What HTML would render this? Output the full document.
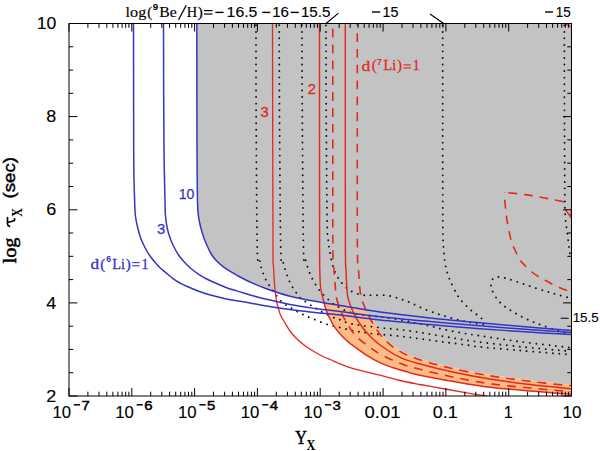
<!DOCTYPE html>
<html><head><meta charset="utf-8"><title>plot</title>
<style>html,body{margin:0;padding:0;background:#fff}svg{display:block}text{white-space:pre}</style>
</head><body>
<svg width="600" height="451" viewBox="0 0 600 451">
<rect width="600" height="451" fill="#fff"/>
<clipPath id="c"><rect x="69.0" y="23.5" width="502.5" height="372.5"/></clipPath>
<g clip-path="url(#c)">
<path d="M196.8 23.5 C196.8 36.2 196.9 78.9 196.9 100.0 C196.9 121.1 196.9 136.7 197.0 150.0 C197.1 163.3 197.1 170.8 197.2 180.0 C197.3 189.2 197.4 199.2 197.6 205.0 C197.8 210.8 198.0 212.0 198.3 215.0 C198.7 218.0 199.1 220.3 199.7 223.0 C200.3 225.7 200.9 228.3 201.7 231.0 C202.5 233.7 203.3 236.3 204.3 239.0 C205.3 241.7 206.4 244.3 207.7 247.0 C208.9 249.7 210.4 252.8 211.8 255.0 C213.2 257.2 214.2 258.4 216.0 260.3 C217.8 262.2 220.2 264.4 222.7 266.3 C225.1 268.2 227.8 269.9 230.7 271.7 C233.6 273.5 236.8 275.3 240.0 277.0 C243.2 278.7 245.8 280.1 250.0 282.0 C254.2 283.9 258.3 285.8 265.0 288.2 C271.7 290.6 281.7 294.1 290.0 296.2 C298.3 298.4 306.7 299.8 315.0 301.3 C323.3 302.8 332.0 304.2 340.0 305.5 C348.0 306.8 359.0 308.6 362.8 309.2 C364.3 310.8 369.4 315.7 371.9 319.0 C374.4 322.3 375.6 325.7 377.9 329.0 C380.2 332.3 382.5 335.7 385.9 339.0 C389.3 342.3 393.2 345.9 398.4 349.0 C403.6 352.1 408.1 354.5 416.9 357.5 C425.6 360.5 438.6 364.1 450.9 367.0 C463.2 369.9 477.6 372.6 490.9 374.8 C504.2 377.0 517.3 378.6 530.9 380.3 C544.5 382.0 565.5 384.1 572.4 384.8 L571.5 23.5 Z" fill="#c3c3c3"/>
<path d="M325.0 303.0 C325.1 304.0 324.9 306.4 325.7 309.0 C326.5 311.6 328.1 315.2 329.7 318.3 C331.2 321.4 333.0 324.8 335.0 327.7 C337.0 330.6 339.2 333.1 341.7 335.7 C344.1 338.3 347.8 341.5 349.7 343.2 C351.6 344.9 350.5 343.8 353.3 345.8 C356.1 347.8 362.2 352.5 366.7 355.3 C371.1 358.1 375.6 360.6 380.0 362.7 C384.4 364.8 388.9 366.3 393.3 367.8 C397.8 369.3 402.2 370.6 406.7 371.8 C411.1 373.1 411.9 373.6 420.0 375.3 C428.1 377.0 443.3 379.8 455.0 381.8 C466.7 383.8 477.5 385.7 490.0 387.2 C502.5 388.7 516.4 389.8 530.0 391.0 C543.6 392.2 564.6 393.7 571.5 394.2 L572.4 384.8 C565.5 384.1 544.5 382.0 530.9 380.3 C517.3 378.6 504.2 377.0 490.9 374.8 C477.6 372.6 463.2 369.9 450.9 367.0 C438.6 364.1 425.6 360.5 416.9 357.5 C408.1 354.5 403.6 352.1 398.4 349.0 C393.2 345.9 389.3 342.3 385.9 339.0 C382.5 335.7 380.2 332.3 377.9 329.0 C375.6 325.7 374.4 322.3 371.9 319.0 C369.4 315.7 364.3 310.8 362.8 309.2 C359.0 308.6 346.3 306.5 340.0 305.5 C333.7 304.5 327.5 303.4 325.0 303.0 Z" fill="#fcbb82"/>
<path d="M256.0 23.5 C256.0 41.2 256.0 92.2 256.2 130.0 C256.4 167.8 256.8 228.3 257.3 250.0 C257.9 271.7 258.7 256.7 259.5 260.0 C260.3 263.3 260.9 266.7 262.0 270.0 C263.1 273.3 264.2 276.7 266.0 280.0 C267.8 283.3 269.8 286.3 272.5 290.0 C275.2 293.7 278.6 298.8 282.0 302.0 C285.4 305.2 289.3 306.8 293.0 309.0 C296.7 311.2 300.2 313.2 304.0 315.0 C307.8 316.8 311.8 318.3 316.0 320.0 C320.2 321.7 324.7 323.7 329.0 325.0 C333.3 326.3 337.8 327.0 342.0 328.0 C346.2 329.0 350.3 330.3 354.0 331.0 C357.7 331.7 360.7 331.8 364.0 332.3 C367.3 332.8 370.1 333.6 374.0 334.0 C377.9 334.4 382.1 334.5 387.5 335.0 C392.9 335.5 400.2 336.2 406.7 337.0 C413.2 337.8 420.0 338.8 426.7 339.7 C433.4 340.6 440.3 341.7 446.7 342.5 C453.1 343.3 459.8 344.0 465.0 344.7 C470.2 345.4 468.8 345.7 478.0 346.7 C487.2 347.7 505.5 349.2 520.0 350.5 C534.5 351.8 556.4 353.4 565.0 354.2 C573.6 354.9 570.4 354.9 571.5 355.0" fill="none" stroke="#111" stroke-width="1.9" stroke-linecap="round" stroke-dasharray="0.01 6.5" stroke-dashoffset="-2"/>
<path d="M279.2 23.5 C279.3 41.2 279.3 92.2 279.6 130.0 C279.9 167.8 280.2 228.0 280.8 250.0 C281.4 272.0 281.5 256.6 283.0 262.0 C284.5 267.4 287.2 276.6 290.0 282.5 C292.8 288.4 297.3 294.2 300.0 297.5 C302.7 300.8 304.0 300.6 306.0 302.0 C308.0 303.4 310.0 304.7 312.0 306.0 C314.0 307.3 316.0 308.4 318.0 309.6 C320.0 310.8 321.2 311.6 324.0 313.0 C326.8 314.4 332.0 316.8 335.0 318.0 C338.0 319.2 339.8 319.7 342.0 320.5 C344.2 321.3 345.3 322.2 348.0 323.0 C350.7 323.8 354.3 324.4 358.0 325.0 C361.7 325.6 365.8 326.0 370.0 326.5 C374.2 327.0 378.6 327.5 383.0 328.0 C387.4 328.5 391.4 328.7 396.7 329.3 C402.0 329.9 408.6 330.8 415.0 331.7 C421.4 332.6 428.3 333.9 435.0 335.0 C441.7 336.1 448.3 337.2 455.0 338.3 C461.7 339.4 464.2 340.1 475.0 341.5 C485.8 342.9 505.0 345.1 520.0 346.7 C535.0 348.2 556.4 350.0 565.0 350.8 C573.6 351.6 570.4 351.4 571.5 351.5" fill="none" stroke="#111" stroke-width="1.9" stroke-linecap="round" stroke-dasharray="0.01 6.5" stroke-dashoffset="-2"/>
<path d="M301.9 23.5 C302.0 41.2 302.1 92.2 302.4 130.0 C302.7 167.8 303.0 228.4 303.5 250.0 C304.0 271.6 304.1 255.1 305.3 259.3 C306.5 263.5 308.2 270.0 310.7 275.3 C313.1 280.6 316.6 286.6 320.0 291.0 C323.4 295.4 328.2 299.5 331.0 302.0 C333.8 304.5 334.8 304.7 337.0 306.0 C339.2 307.3 341.2 308.8 344.0 310.0 C346.8 311.2 349.7 312.5 354.0 313.5 C358.3 314.5 364.8 315.1 370.0 315.8 C375.2 316.5 379.3 316.7 385.0 317.5 C390.7 318.3 398.7 319.5 404.0 320.5 C409.3 321.5 412.4 322.4 416.7 323.3 C421.0 324.2 425.8 325.1 430.0 326.0 C434.2 326.9 437.5 328.1 441.7 329.0 C445.9 329.9 450.6 330.9 455.0 331.7 C459.4 332.5 463.8 333.3 468.0 334.0 C472.2 334.7 471.3 334.5 480.0 335.8 C488.7 337.1 505.8 339.8 520.0 341.7 C534.2 343.6 556.4 346.0 565.0 347.0 C573.6 348.0 570.4 347.7 571.5 347.8" fill="none" stroke="#111" stroke-width="1.9" stroke-linecap="round" stroke-dasharray="0.01 6.5" stroke-dashoffset="-2"/>
<path d="M325.9 23.5 C326.0 41.2 326.1 96.4 326.3 130.0 C326.5 163.6 326.9 206.7 327.2 225.0 C327.5 243.3 327.8 235.5 328.2 240.0 C328.6 244.5 328.9 247.4 329.8 252.0 C330.7 256.6 331.6 262.5 333.3 267.3 C335.0 272.1 337.3 276.9 340.0 280.7 C342.7 284.5 345.8 287.6 349.3 290.0 C352.9 292.4 357.5 293.9 361.3 294.8 C365.1 295.7 367.9 295.2 372.0 295.3 C376.1 295.4 381.4 294.8 385.8 295.3 C390.2 295.8 394.5 297.1 398.5 298.3 C402.5 299.5 406.1 300.9 410.0 302.5 C413.9 304.1 417.5 306.2 421.7 308.0 C425.9 309.8 430.8 311.6 435.0 313.0 C439.2 314.4 442.5 315.5 446.7 316.7 C450.9 317.9 455.8 319.3 460.0 320.3 C464.2 321.3 467.7 322.0 471.7 322.7 C475.7 323.4 481.9 324.2 484.0 324.5" fill="none" stroke="#111" stroke-width="1.9" stroke-linecap="round" stroke-dasharray="0.01 6.5" stroke-dashoffset="-2"/>
<path d="M442.7 23.5 C442.7 41.2 442.7 95.6 442.7 130.0 C442.7 164.4 442.7 210.0 442.9 230.0 C443.1 250.0 443.4 244.2 443.8 250.0 C444.1 255.8 444.6 260.5 445.3 264.7 C446.0 268.9 447.1 272.0 448.0 275.0 C448.9 278.0 449.6 279.3 451.0 282.5 C452.4 285.7 455.2 291.2 456.7 294.0 C458.2 296.8 458.6 297.2 460.0 299.0 C461.4 300.8 463.3 302.8 465.0 304.5 C466.7 306.2 468.3 308.0 470.0 309.5 C471.7 311.0 473.3 312.1 475.0 313.3 C476.7 314.6 478.5 315.7 480.0 317.0 C481.5 318.3 483.3 320.3 484.0 321.0" fill="none" stroke="#111" stroke-width="1.9" stroke-linecap="round" stroke-dasharray="0.01 6.5" stroke-dashoffset="-2"/>
<path d="M564.3 23.5 C564.3 41.2 564.4 102.2 564.5 130.0 C564.6 157.8 564.7 175.9 564.8 190.0 C564.9 204.1 564.8 207.4 565.2 214.6 C565.6 221.8 566.6 227.3 567.3 233.0 C568.0 238.7 568.7 245.0 569.2 249.0 C569.7 253.0 570.3 255.7 570.5 257.0" fill="none" stroke="#111" stroke-width="1.9" stroke-linecap="round" stroke-dasharray="0.01 6.5" stroke-dashoffset="-2"/>
<path d="M569.0 297.8 C567.2 297.3 561.7 295.9 558.0 294.8 C554.3 293.8 551.3 292.9 546.6 291.5 C541.9 290.1 535.7 288.1 530.0 286.2 C524.3 284.3 517.0 281.7 512.5 280.3 C508.0 278.9 505.6 278.2 503.0 277.6 C500.4 277.1 498.7 276.8 497.0 277.0 C495.3 277.2 494.0 277.8 493.0 278.8 C492.0 279.8 491.2 281.1 491.0 283.0 C490.8 284.9 491.0 287.3 492.0 290.0 C493.0 292.7 495.2 296.5 497.0 299.0 C498.8 301.5 500.8 303.2 503.0 305.0 C505.2 306.8 506.9 308.1 510.0 310.0 C513.1 311.9 517.8 314.7 521.7 316.7 C525.6 318.7 529.4 320.4 533.3 322.0 C537.2 323.6 540.8 324.8 545.0 326.3 C549.2 327.8 555.0 329.7 558.3 330.8 C561.6 331.9 563.9 332.6 565.0 333.0" fill="none" stroke="#111" stroke-width="1.9" stroke-linecap="round" stroke-dasharray="0.01 6.5" stroke-dashoffset="-2"/>
<path d="M272.5 23.5 C272.5 41.2 272.6 92.2 272.7 130.0 C272.8 167.8 272.9 227.5 273.0 250.0 C273.1 272.5 273.1 259.2 273.4 265.0 C273.7 270.8 274.1 279.2 274.6 285.0 C275.1 290.8 275.7 296.2 276.3 300.0 C276.9 303.8 277.6 305.5 278.3 308.0 C279.0 310.5 279.4 312.5 280.5 315.0 C281.6 317.5 283.4 320.3 285.0 323.0 C286.6 325.7 288.2 328.5 290.0 331.0 C291.8 333.5 293.7 335.7 296.0 338.0 C298.3 340.3 301.2 342.8 304.0 345.0 C306.8 347.2 310.0 349.2 313.0 351.0 C316.0 352.8 319.2 354.6 322.0 356.0 C324.8 357.4 325.3 357.6 330.0 359.5 C334.7 361.4 341.7 365.0 350.0 367.6 C358.3 370.2 371.7 373.1 380.0 375.2 C388.3 377.3 393.3 378.9 400.0 380.5 C406.7 382.1 412.5 383.1 420.0 384.5 C427.5 385.9 437.2 387.6 445.0 389.0 C452.8 390.4 459.8 391.6 466.7 392.8 C473.6 394.0 483.4 395.5 486.7 396.0" fill="none" stroke="#e3291f" stroke-width="1.30"/>
<path d="M319.5 23.5 C319.5 41.2 319.5 92.2 319.5 130.0 C319.5 167.8 319.6 226.7 319.6 250.0 C319.7 273.3 319.7 264.2 319.8 270.0 C319.9 275.8 320.1 281.2 320.4 285.0 C320.7 288.8 321.2 290.8 321.6 293.0 C322.0 295.2 322.3 295.6 323.0 298.3 C323.7 301.0 324.6 305.7 325.7 309.0 C326.8 312.3 328.1 315.2 329.7 318.3 C331.2 321.4 333.0 324.8 335.0 327.7 C337.0 330.6 339.2 333.1 341.7 335.7 C344.1 338.3 347.8 341.5 349.7 343.2 C351.6 344.9 350.5 343.8 353.3 345.8 C356.1 347.8 362.2 352.5 366.7 355.3 C371.1 358.1 375.6 360.6 380.0 362.7 C384.4 364.8 388.9 366.3 393.3 367.8 C397.8 369.3 402.2 370.6 406.7 371.8 C411.1 373.1 411.9 373.6 420.0 375.3 C428.1 377.0 443.3 379.8 455.0 381.8 C466.7 383.8 477.5 385.7 490.0 387.2 C502.5 388.7 516.4 389.8 530.0 391.0 C543.6 392.2 564.6 393.7 571.5 394.2" fill="none" stroke="#e3291f" stroke-width="1.45"/>
<path d="M345.3 23.5 C345.3 41.2 345.3 92.2 345.3 130.0 C345.3 167.8 345.3 226.7 345.4 250.0 C345.5 273.3 345.7 263.3 346.0 270.0 C346.3 276.7 346.6 285.0 347.0 290.0 C347.4 295.0 347.3 296.0 348.5 300.0 C349.7 304.0 352.1 310.0 354.0 314.0 C355.9 318.0 357.7 320.7 360.0 324.0 C362.3 327.3 364.7 330.5 368.0 334.0 C371.3 337.5 374.7 341.1 380.0 345.0 C385.3 348.9 393.3 354.1 400.0 357.3 C406.7 360.5 410.8 361.5 420.0 364.0 C429.2 366.5 443.3 370.0 455.0 372.5 C466.7 375.0 477.5 377.0 490.0 379.0 C502.5 381.0 516.4 382.9 530.0 384.5 C543.6 386.1 564.6 388.0 571.5 388.7" fill="none" stroke="#e3291f" stroke-width="1.45"/>
<path d="M332.8 23.5 C332.8 41.2 332.8 92.2 332.8 130.0 C332.8 167.8 332.7 226.7 332.9 250.0 C333.1 273.3 333.6 263.3 334.0 270.0 C334.4 276.7 335.1 285.0 335.6 290.0 C336.1 295.0 335.9 296.0 337.0 300.0 C338.1 304.0 340.2 309.8 342.0 314.0 C343.8 318.2 345.7 321.3 348.0 325.0 C350.3 328.7 352.7 332.5 356.0 336.0 C359.3 339.5 364.0 343.0 368.0 346.0 C372.0 349.0 374.7 351.1 380.0 354.0 C385.3 356.9 393.3 360.8 400.0 363.3 C406.7 365.9 410.8 366.9 420.0 369.3 C429.2 371.7 443.3 375.1 455.0 377.5 C466.7 379.9 477.5 381.9 490.0 383.7 C502.5 385.4 516.4 386.7 530.0 388.0 C543.6 389.3 564.6 391.1 571.5 391.7" fill="none" stroke="#e3291f" stroke-width="1.60" stroke-dasharray="8.8 7" stroke-dashoffset="10.2"/>
<path d="M357.3 23.5 C357.3 41.2 357.3 92.2 357.3 130.0 C357.3 167.8 357.2 226.7 357.4 250.0 C357.6 273.3 358.2 263.3 358.6 270.0 C359.0 276.7 359.4 285.0 360.0 290.0 C360.6 295.0 361.0 296.7 362.0 300.0 C363.0 303.3 364.5 306.7 366.0 310.0 C367.5 313.3 369.2 316.7 371.0 320.0 C372.8 323.3 374.7 326.7 377.0 330.0 C379.3 333.3 381.6 336.7 385.0 340.0 C388.4 343.3 392.3 346.9 397.5 350.0 C402.7 353.1 407.2 355.5 416.0 358.5 C424.8 361.5 437.7 365.1 450.0 368.0 C462.3 370.9 476.7 373.6 490.0 375.8 C503.3 378.0 516.4 379.6 530.0 381.3 C543.6 383.0 564.6 385.1 571.5 385.8" fill="none" stroke="#e3291f" stroke-width="1.60" stroke-dasharray="8.8 7" stroke-dashoffset="6.0"/>
<path d="M567.0 290.5 C565.0 289.7 558.2 287.0 555.0 285.5 C551.8 284.0 550.0 282.8 547.5 281.5 C545.0 280.2 542.5 279.0 540.0 277.5 C537.5 276.0 535.0 274.5 532.5 272.5 C530.0 270.5 527.1 267.6 525.0 265.5 C522.9 263.4 521.7 262.6 520.0 260.0 C518.3 257.4 516.5 253.3 515.0 250.0 C513.5 246.7 512.3 245.0 511.0 240.0 C509.7 235.0 508.1 226.8 507.0 220.0 C505.9 213.2 505.0 203.6 504.7 199.0 C504.4 194.4 504.9 193.6 505.0 192.5" fill="none" stroke="#e3291f" stroke-width="1.60" stroke-dasharray="8.8 7" stroke-dashoffset="0.0"/>
<path d="M505.0 192.5 C508.4 192.8 518.6 193.7 525.3 194.6 C532.0 195.5 538.5 196.8 545.0 198.0 C551.5 199.2 560.8 201.2 564.0 201.8" fill="none" stroke="#e3291f" stroke-width="1.60" stroke-dasharray="8.8 7" stroke-dashoffset="12.5"/>
<path d="M565.2 209.3 L570.5 216.7 L571.5 208" fill="none" stroke="#e3291f" stroke-width="1.4"/>
<path d="M565.5 23.8 L571.5 27" fill="none" stroke="#e3291f" stroke-width="1.4"/>
<path d="M133.5 23.5 C133.5 36.2 133.6 78.9 133.6 100.0 C133.6 121.1 133.6 136.7 133.7 150.0 C133.8 163.3 133.8 171.7 134.0 180.0 C134.2 188.3 134.4 194.2 134.6 200.0 C134.8 205.8 134.9 210.7 135.3 215.0 C135.8 219.3 136.4 222.2 137.3 226.0 C138.2 229.8 139.3 234.0 140.5 237.5 C141.7 241.0 143.1 243.9 144.7 247.0 C146.3 250.1 148.0 253.2 150.0 256.0 C152.0 258.8 154.8 262.1 156.5 264.0 C158.2 265.9 158.3 266.1 160.0 267.7 C161.7 269.3 164.5 271.5 166.7 273.4 C168.9 275.2 171.1 277.2 173.3 278.8 C175.5 280.4 177.8 281.8 180.0 283.0 C182.2 284.2 183.4 284.9 186.7 286.3 C190.0 287.8 195.6 290.1 200.0 291.7 C204.4 293.3 208.9 294.5 213.3 295.7 C217.8 296.9 222.2 298.1 226.7 299.0 C231.1 299.9 236.1 300.6 240.0 301.3 C243.9 302.0 245.8 302.3 250.0 303.0 C254.2 303.7 258.3 304.6 265.0 305.7 C271.7 306.8 281.7 308.3 290.0 309.4 C298.3 310.5 306.7 311.6 315.0 312.5 C323.3 313.4 329.2 313.8 340.0 315.0 C350.8 316.2 365.0 318.4 380.0 320.0 C395.0 321.6 413.3 323.1 430.0 324.5 C446.7 325.9 464.2 327.5 480.0 328.7 C495.8 329.9 509.8 330.8 525.0 331.8 C540.2 332.8 563.8 334.1 571.5 334.5" fill="none" stroke="#3434c6" stroke-width="1.50"/>
<path d="M163.5 23.5 C163.5 36.2 163.6 78.9 163.7 100.0 C163.8 121.1 163.9 136.7 164.0 150.0 C164.1 163.3 164.3 171.7 164.5 180.0 C164.7 188.3 164.8 194.2 165.0 200.0 C165.2 205.8 165.0 210.3 165.4 215.0 C165.8 219.7 166.5 224.5 167.3 228.3 C168.1 232.1 168.9 234.6 170.0 237.7 C171.1 240.8 172.5 244.0 174.0 247.0 C175.5 250.0 177.2 253.1 178.9 255.5 C180.6 257.9 182.0 259.6 184.0 261.7 C186.0 263.8 188.2 266.2 190.7 268.3 C193.1 270.4 196.0 272.5 198.7 274.3 C201.4 276.1 203.8 277.5 206.7 279.0 C209.6 280.5 212.7 281.9 216.0 283.3 C219.3 284.8 222.7 286.3 226.7 287.7 C230.7 289.1 236.1 290.7 240.0 291.9 C243.9 293.1 245.8 293.8 250.0 295.0 C254.2 296.2 258.3 297.3 265.0 298.9 C271.7 300.5 281.7 302.9 290.0 304.5 C298.3 306.1 306.7 307.3 315.0 308.5 C323.3 309.7 329.2 310.1 340.0 311.5 C350.8 312.9 365.0 315.0 380.0 316.7 C395.0 318.4 413.3 320.0 430.0 321.5 C446.7 323.0 464.2 324.5 480.0 325.8 C495.8 327.1 509.8 328.2 525.0 329.3 C540.2 330.4 563.8 332.0 571.5 332.5" fill="none" stroke="#3434c6" stroke-width="1.50"/>
<path d="M196.8 23.5 C196.8 36.2 196.9 78.9 196.9 100.0 C196.9 121.1 196.9 136.7 197.0 150.0 C197.1 163.3 197.1 170.8 197.2 180.0 C197.3 189.2 197.4 199.2 197.6 205.0 C197.8 210.8 198.0 212.0 198.3 215.0 C198.7 218.0 199.1 220.3 199.7 223.0 C200.3 225.7 200.9 228.3 201.7 231.0 C202.5 233.7 203.3 236.3 204.3 239.0 C205.3 241.7 206.4 244.3 207.7 247.0 C208.9 249.7 210.4 252.8 211.8 255.0 C213.2 257.2 214.2 258.4 216.0 260.3 C217.8 262.2 220.2 264.4 222.7 266.3 C225.1 268.2 227.8 269.9 230.7 271.7 C233.6 273.5 236.8 275.3 240.0 277.0 C243.2 278.7 245.8 280.1 250.0 282.0 C254.2 283.9 258.3 285.8 265.0 288.2 C271.7 290.6 281.7 294.1 290.0 296.2 C298.3 298.4 306.7 299.8 315.0 301.3 C323.3 302.8 329.2 303.7 340.0 305.5 C350.8 307.3 365.0 309.9 380.0 312.0 C395.0 314.1 413.3 316.2 430.0 318.0 C446.7 319.8 464.2 321.3 480.0 322.8 C495.8 324.3 509.8 325.5 525.0 326.8 C540.2 328.1 563.8 329.9 571.5 330.5" fill="none" stroke="#3434c6" stroke-width="1.50"/>
</g>
<path d="M69.0 23.5 v8 M69.0 396.0 v-8 M87.9 23.5 v4.3 M87.9 396.0 v-4.3 M99.0 23.5 v4.3 M99.0 396.0 v-4.3 M106.8 23.5 v4.3 M106.8 396.0 v-4.3 M112.9 23.5 v4.3 M112.9 396.0 v-4.3 M117.9 23.5 v4.3 M117.9 396.0 v-4.3 M122.1 23.5 v4.3 M122.1 396.0 v-4.3 M125.7 23.5 v4.3 M125.7 396.0 v-4.3 M128.9 23.5 v4.3 M128.9 396.0 v-4.3 M131.8 23.5 v8 M131.8 396.0 v-8 M150.7 23.5 v4.3 M150.7 396.0 v-4.3 M161.8 23.5 v4.3 M161.8 396.0 v-4.3 M169.6 23.5 v4.3 M169.6 396.0 v-4.3 M175.7 23.5 v4.3 M175.7 396.0 v-4.3 M180.7 23.5 v4.3 M180.7 396.0 v-4.3 M184.9 23.5 v4.3 M184.9 396.0 v-4.3 M188.5 23.5 v4.3 M188.5 396.0 v-4.3 M191.8 23.5 v4.3 M191.8 396.0 v-4.3 M194.6 23.5 v8 M194.6 396.0 v-8 M213.5 23.5 v4.3 M213.5 396.0 v-4.3 M224.6 23.5 v4.3 M224.6 396.0 v-4.3 M232.4 23.5 v4.3 M232.4 396.0 v-4.3 M238.5 23.5 v4.3 M238.5 396.0 v-4.3 M243.5 23.5 v4.3 M243.5 396.0 v-4.3 M247.7 23.5 v4.3 M247.7 396.0 v-4.3 M251.4 23.5 v4.3 M251.4 396.0 v-4.3 M254.6 23.5 v4.3 M254.6 396.0 v-4.3 M257.4 23.5 v8 M257.4 396.0 v-8 M276.3 23.5 v4.3 M276.3 396.0 v-4.3 M287.4 23.5 v4.3 M287.4 396.0 v-4.3 M295.3 23.5 v4.3 M295.3 396.0 v-4.3 M301.3 23.5 v4.3 M301.3 396.0 v-4.3 M306.3 23.5 v4.3 M306.3 396.0 v-4.3 M310.5 23.5 v4.3 M310.5 396.0 v-4.3 M314.2 23.5 v4.3 M314.2 396.0 v-4.3 M317.4 23.5 v4.3 M317.4 396.0 v-4.3 M320.2 23.5 v8 M320.2 396.0 v-8 M339.2 23.5 v4.3 M339.2 396.0 v-4.3 M350.2 23.5 v4.3 M350.2 396.0 v-4.3 M358.1 23.5 v4.3 M358.1 396.0 v-4.3 M364.2 23.5 v4.3 M364.2 396.0 v-4.3 M369.1 23.5 v4.3 M369.1 396.0 v-4.3 M373.3 23.5 v4.3 M373.3 396.0 v-4.3 M377.0 23.5 v4.3 M377.0 396.0 v-4.3 M380.2 23.5 v4.3 M380.2 396.0 v-4.3 M383.1 23.5 v8 M383.1 396.0 v-8 M402.0 23.5 v4.3 M402.0 396.0 v-4.3 M413.0 23.5 v4.3 M413.0 396.0 v-4.3 M420.9 23.5 v4.3 M420.9 396.0 v-4.3 M427.0 23.5 v4.3 M427.0 396.0 v-4.3 M431.9 23.5 v4.3 M431.9 396.0 v-4.3 M436.1 23.5 v4.3 M436.1 396.0 v-4.3 M439.8 23.5 v4.3 M439.8 396.0 v-4.3 M443.0 23.5 v4.3 M443.0 396.0 v-4.3 M445.9 23.5 v8 M445.9 396.0 v-8 M464.8 23.5 v4.3 M464.8 396.0 v-4.3 M475.8 23.5 v4.3 M475.8 396.0 v-4.3 M483.7 23.5 v4.3 M483.7 396.0 v-4.3 M489.8 23.5 v4.3 M489.8 396.0 v-4.3 M494.8 23.5 v4.3 M494.8 396.0 v-4.3 M499.0 23.5 v4.3 M499.0 396.0 v-4.3 M502.6 23.5 v4.3 M502.6 396.0 v-4.3 M505.8 23.5 v4.3 M505.8 396.0 v-4.3 M508.7 23.5 v8 M508.7 396.0 v-8 M527.6 23.5 v4.3 M527.6 396.0 v-4.3 M538.7 23.5 v4.3 M538.7 396.0 v-4.3 M546.5 23.5 v4.3 M546.5 396.0 v-4.3 M552.6 23.5 v4.3 M552.6 396.0 v-4.3 M557.6 23.5 v4.3 M557.6 396.0 v-4.3 M561.8 23.5 v4.3 M561.8 396.0 v-4.3 M565.4 23.5 v4.3 M565.4 396.0 v-4.3 M568.6 23.5 v4.3 M568.6 396.0 v-4.3 M571.5 23.5 v8 M571.5 396.0 v-8 M69.0 23.5 h8.4 M571.5 23.5 h-8.4 M69.0 46.8 h4.2 M571.5 46.8 h-4.2 M69.0 70.1 h4.2 M571.5 70.1 h-4.2 M69.0 93.3 h4.2 M571.5 93.3 h-4.2 M69.0 116.6 h8.4 M571.5 116.6 h-8.4 M69.0 139.9 h4.2 M571.5 139.9 h-4.2 M69.0 163.2 h4.2 M571.5 163.2 h-4.2 M69.0 186.5 h4.2 M571.5 186.5 h-4.2 M69.0 209.8 h8.4 M571.5 209.8 h-8.4 M69.0 233.0 h4.2 M571.5 233.0 h-4.2 M69.0 256.3 h4.2 M571.5 256.3 h-4.2 M69.0 279.6 h4.2 M571.5 279.6 h-4.2 M69.0 302.9 h8.4 M571.5 302.9 h-8.4 M69.0 326.2 h4.2 M571.5 326.2 h-4.2 M69.0 349.4 h4.2 M571.5 349.4 h-4.2 M69.0 372.7 h4.2 M571.5 372.7 h-4.2 M69.0 396.0 h8.4 M571.5 396.0 h-8.4" stroke="#000" stroke-width="1" fill="none"/>
<rect x="69.0" y="23.5" width="502.5" height="372.5" fill="none" stroke="#000" stroke-width="1.0"/>
<path d="M326 23.5 L338.5 13.2 M430 14 L443.3 23.3 M560.7 318.3 H568.7" stroke="#000" stroke-width="1.1" fill="none"/>
<text x="125.6" y="16.7" font-family="Liberation Serif" font-size="15.0" fill="#000" textLength="20.6" lengthAdjust="spacingAndGlyphs" stroke="#000" stroke-width="0.15">log</text>
<text x="147.2" y="16.7" font-family="Liberation Serif" font-size="15.0" fill="#000" textLength="4.9" lengthAdjust="spacingAndGlyphs" stroke="#000" stroke-width="0.15">(</text>
<text x="152.7" y="9.6" font-family="Liberation Sans" font-size="9.6" fill="#000" textLength="5.4" lengthAdjust="spacingAndGlyphs" font-weight="bold">9</text>
<text x="159.2" y="16.7" font-family="Liberation Serif" font-size="15.0" fill="#000" textLength="17.4" lengthAdjust="spacingAndGlyphs" stroke="#000" stroke-width="0.15">Be</text>
<path d="M178.6 19.8 L186.2 5.3" stroke="#000" stroke-width="1.3" fill="none"/>
<text x="186.7" y="16.7" font-family="Liberation Serif" font-size="15.0" fill="#000" textLength="10.4" lengthAdjust="spacingAndGlyphs" stroke="#000" stroke-width="0.15">H</text>
<text x="197.6" y="16.7" font-family="Liberation Serif" font-size="15.0" fill="#000" textLength="5.4" lengthAdjust="spacingAndGlyphs" stroke="#000" stroke-width="0.15">)</text>
<path d="M204.0 10.6 H212.5" stroke="#000" stroke-width="1.20" fill="none"/>
<path d="M204.0 14.0 H212.5" stroke="#000" stroke-width="1.20" fill="none"/>
<path d="M215.4 12.4 H223.6" stroke="#000" stroke-width="1.40" fill="none"/>
<text x="226.6" y="16.6" font-family="Liberation Sans" font-size="14.0" fill="#000" textLength="30.8" lengthAdjust="spacingAndGlyphs" stroke="#000" stroke-width="0.12">16.5</text>
<path d="M262.2 12.4 H270.2" stroke="#000" stroke-width="1.40" fill="none"/>
<text x="272.2" y="16.6" font-family="Liberation Sans" font-size="14.0" fill="#000" textLength="16.8" lengthAdjust="spacingAndGlyphs" stroke="#000" stroke-width="0.12">16</text>
<path d="M290.7 12.4 H298.7" stroke="#000" stroke-width="1.40" fill="none"/>
<text x="300.9" y="16.6" font-family="Liberation Sans" font-size="14.0" fill="#000" textLength="29.5" lengthAdjust="spacingAndGlyphs" stroke="#000" stroke-width="0.12">15.5</text>
<path d="M372.0 12.0 H380.2" stroke="#000" stroke-width="1.40" fill="none"/>
<text x="382.6" y="16.5" font-family="Liberation Sans" font-size="14.0" fill="#000" textLength="16.0" lengthAdjust="spacingAndGlyphs" stroke="#000" stroke-width="0.12">15</text>
<path d="M545.0 12.0 H553.0" stroke="#000" stroke-width="1.40" fill="none"/>
<text x="555.8" y="16.5" font-family="Liberation Sans" font-size="14.0" fill="#000" textLength="15.0" lengthAdjust="spacingAndGlyphs" stroke="#000" stroke-width="0.12">15</text>
<text x="36.7" y="29.2" font-family="Liberation Sans" font-size="16.0" fill="#000" textLength="19.6" lengthAdjust="spacingAndGlyphs" stroke="#000" stroke-width="0.12">10</text>
<text x="46.3" y="122.3" font-family="Liberation Sans" font-size="16.0" fill="#000" textLength="10.0" lengthAdjust="spacingAndGlyphs" stroke="#000" stroke-width="0.12">8</text>
<text x="46.3" y="215.4" font-family="Liberation Sans" font-size="16.0" fill="#000" textLength="10.0" lengthAdjust="spacingAndGlyphs" stroke="#000" stroke-width="0.12">6</text>
<text x="46.3" y="308.6" font-family="Liberation Sans" font-size="16.0" fill="#000" textLength="10.0" lengthAdjust="spacingAndGlyphs" stroke="#000" stroke-width="0.12">4</text>
<text x="46.3" y="401.7" font-family="Liberation Sans" font-size="16.0" fill="#000" textLength="10.0" lengthAdjust="spacingAndGlyphs" stroke="#000" stroke-width="0.12">2</text>
<text x="52.4" y="417.8" font-family="Liberation Sans" font-size="16.0" fill="#000" textLength="18.6" lengthAdjust="spacingAndGlyphs" stroke="#000" stroke-width="0.12">10</text>
<path d="M73.8 404.8 H80.0" stroke="#000" stroke-width="1.50" fill="none"/>
<text x="81.4" y="409.5" font-family="Liberation Sans" font-size="12.5" fill="#000" textLength="8.3" lengthAdjust="spacingAndGlyphs" stroke="#000" stroke-width="0.45">7</text>
<text x="115.2" y="417.8" font-family="Liberation Sans" font-size="16.0" fill="#000" textLength="18.6" lengthAdjust="spacingAndGlyphs" stroke="#000" stroke-width="0.12">10</text>
<path d="M136.6 404.8 H142.8" stroke="#000" stroke-width="1.50" fill="none"/>
<text x="144.2" y="409.5" font-family="Liberation Sans" font-size="12.5" fill="#000" textLength="8.3" lengthAdjust="spacingAndGlyphs" stroke="#000" stroke-width="0.45">6</text>
<text x="178.0" y="417.8" font-family="Liberation Sans" font-size="16.0" fill="#000" textLength="18.6" lengthAdjust="spacingAndGlyphs" stroke="#000" stroke-width="0.12">10</text>
<path d="M199.4 404.8 H205.6" stroke="#000" stroke-width="1.50" fill="none"/>
<text x="207.0" y="409.5" font-family="Liberation Sans" font-size="12.5" fill="#000" textLength="8.3" lengthAdjust="spacingAndGlyphs" stroke="#000" stroke-width="0.45">5</text>
<text x="240.8" y="417.8" font-family="Liberation Sans" font-size="16.0" fill="#000" textLength="18.6" lengthAdjust="spacingAndGlyphs" stroke="#000" stroke-width="0.12">10</text>
<path d="M262.2 404.8 H268.4" stroke="#000" stroke-width="1.50" fill="none"/>
<text x="269.8" y="409.5" font-family="Liberation Sans" font-size="12.5" fill="#000" textLength="8.3" lengthAdjust="spacingAndGlyphs" stroke="#000" stroke-width="0.45">4</text>
<text x="303.6" y="417.8" font-family="Liberation Sans" font-size="16.0" fill="#000" textLength="18.6" lengthAdjust="spacingAndGlyphs" stroke="#000" stroke-width="0.12">10</text>
<path d="M325.0 404.8 H331.2" stroke="#000" stroke-width="1.50" fill="none"/>
<text x="332.6" y="409.5" font-family="Liberation Sans" font-size="12.5" fill="#000" textLength="8.3" lengthAdjust="spacingAndGlyphs" stroke="#000" stroke-width="0.45">3</text>
<text x="364.5" y="417.8" font-family="Liberation Sans" font-size="16.0" fill="#000" textLength="36.0" lengthAdjust="spacingAndGlyphs" stroke="#000" stroke-width="0.12">0.01</text>
<text x="432.8" y="417.8" font-family="Liberation Sans" font-size="16.0" fill="#000" textLength="25.0" lengthAdjust="spacingAndGlyphs" stroke="#000" stroke-width="0.12">0.1</text>
<text x="503.8" y="417.8" font-family="Liberation Sans" font-size="16.0" fill="#000" textLength="9.0" lengthAdjust="spacingAndGlyphs" stroke="#000" stroke-width="0.12">1</text>
<text x="562.5" y="417.8" font-family="Liberation Sans" font-size="16.0" fill="#000" textLength="19.0" lengthAdjust="spacingAndGlyphs" stroke="#000" stroke-width="0.12">10</text>
<text x="295.3" y="443.6" font-family="Liberation Serif" font-size="18.6" fill="#000" textLength="11.6" lengthAdjust="spacingAndGlyphs" stroke="#000" stroke-width="0.5">Y</text>
<text x="306.5" y="449.8" font-family="Liberation Serif" font-size="14.2" fill="#000" textLength="8.8" lengthAdjust="spacingAndGlyphs" font-weight="bold">X</text>
<g transform="translate(12.5,262.5) rotate(-90)"><text x="-1.0" y="3.5" font-family="Liberation Serif" font-size="19.5" fill="#000" textLength="26.0" lengthAdjust="spacingAndGlyphs" stroke="#000" stroke-width="0.5">log</text><path d="M36.2 -2.9 Q36.7 -5 38.6 -5 H45 M40 -5 L41.5 0.6 Q42 2.5 43.6 2.1" fill="none" stroke="#000" stroke-width="1.7" stroke-linecap="round" stroke-linejoin="round"/><text x="45.8" y="9.5" font-family="Liberation Serif" font-size="14.8" fill="#000" textLength="8.6" lengthAdjust="spacingAndGlyphs" font-weight="bold">X</text><text x="64.0" y="2.9" font-family="Liberation Sans" font-size="17.0" fill="#000" textLength="41.4" lengthAdjust="spacingAndGlyphs" stroke="#000" stroke-width="0.45">(sec)</text></g>
<text x="178.8" y="198.8" font-family="Liberation Sans" font-size="14.2" fill="#3434c6" textLength="15.6" lengthAdjust="spacingAndGlyphs" stroke="#3434c6" stroke-width="0.25">10</text>
<text x="157.1" y="233.8" font-family="Liberation Sans" font-size="14.2" fill="#3434c6" textLength="8.2" lengthAdjust="spacingAndGlyphs" stroke="#3434c6" stroke-width="0.25">3</text>
<text x="90.6" y="268.7" font-family="Liberation Serif" font-size="15.0" fill="#3434c6" textLength="8.6" lengthAdjust="spacingAndGlyphs" stroke="#3434c6" stroke-width="0.3">d</text>
<text x="100.2" y="268.7" font-family="Liberation Serif" font-size="15.0" fill="#3434c6" textLength="5.0" lengthAdjust="spacingAndGlyphs" stroke="#3434c6" stroke-width="0.3">(</text>
<text x="106.2" y="261.9" font-family="Liberation Sans" font-size="9.0" fill="#3434c6" textLength="4.9" lengthAdjust="spacingAndGlyphs" font-weight="bold">6</text>
<text x="112.3" y="268.7" font-family="Liberation Serif" font-size="15.0" fill="#3434c6" textLength="12.7" lengthAdjust="spacingAndGlyphs" stroke="#3434c6" stroke-width="0.3">Li</text>
<text x="125.8" y="268.7" font-family="Liberation Serif" font-size="15.0" fill="#3434c6" textLength="5.0" lengthAdjust="spacingAndGlyphs" stroke="#3434c6" stroke-width="0.3">)</text>
<path d="M132.3 262.6 H139.7" stroke="#3434c6" stroke-width="1.10" fill="none"/>
<path d="M132.3 265.8 H139.7" stroke="#3434c6" stroke-width="1.10" fill="none"/>
<text x="141.5" y="268.7" font-family="Liberation Serif" font-size="15.0" fill="#3434c6" textLength="7.0" lengthAdjust="spacingAndGlyphs" stroke="#3434c6" stroke-width="0.3">1</text>
<text x="260.6" y="117.1" font-family="Liberation Sans" font-size="14.0" fill="#e3291f" textLength="8.3" lengthAdjust="spacingAndGlyphs" stroke="#e3291f" stroke-width="0.3">3</text>
<text x="307.8" y="93.9" font-family="Liberation Sans" font-size="14.0" fill="#e3291f" textLength="8.2" lengthAdjust="spacingAndGlyphs" stroke="#e3291f" stroke-width="0.3">2</text>
<text x="361.6" y="70.6" font-family="Liberation Serif" font-size="15.0" fill="#e3291f" textLength="8.8" lengthAdjust="spacingAndGlyphs" stroke="#e3291f" stroke-width="0.3">d</text>
<text x="371.7" y="70.4" font-family="Liberation Serif" font-size="15.0" fill="#e3291f" textLength="5.0" lengthAdjust="spacingAndGlyphs" stroke="#e3291f" stroke-width="0.3">(</text>
<text x="377.0" y="65.2" font-family="Liberation Sans" font-size="9.3" fill="#e3291f" textLength="4.8" lengthAdjust="spacingAndGlyphs" font-weight="bold">7</text>
<text x="383.5" y="70.4" font-family="Liberation Serif" font-size="15.0" fill="#e3291f" textLength="12.7" lengthAdjust="spacingAndGlyphs" stroke="#e3291f" stroke-width="0.3">Li</text>
<text x="397.0" y="70.4" font-family="Liberation Serif" font-size="15.0" fill="#e3291f" textLength="5.0" lengthAdjust="spacingAndGlyphs" stroke="#e3291f" stroke-width="0.3">)</text>
<path d="M403.5 64.9 H410.9" stroke="#e3291f" stroke-width="1.10" fill="none"/>
<path d="M403.5 67.9 H410.9" stroke="#e3291f" stroke-width="1.10" fill="none"/>
<text x="412.7" y="70.4" font-family="Liberation Serif" font-size="15.0" fill="#e3291f" textLength="7.0" lengthAdjust="spacingAndGlyphs" stroke="#e3291f" stroke-width="0.3">1</text>
<text x="572.7" y="322.3" font-family="Liberation Sans" font-size="13.4" fill="#000" textLength="26.0" lengthAdjust="spacingAndGlyphs" stroke="#000" stroke-width="0.12">15.5</text>
</svg>
</body></html>
